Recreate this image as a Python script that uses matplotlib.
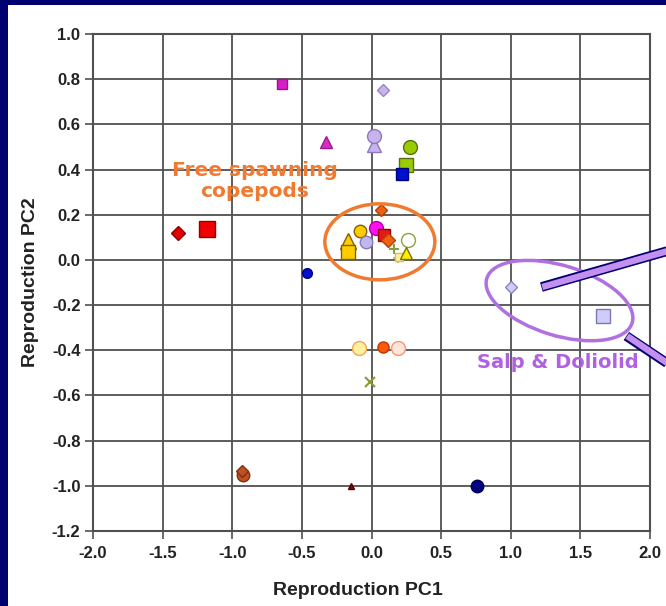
import matplotlib.pyplot as plt
from matplotlib.patches import Ellipse, Rectangle
from matplotlib.transforms import ScaledTranslation

plt.rcParams['font.family'] = ['Liberation Sans', 'DejaVu Sans']

# Reproduction PCA scores, one entry per taxon
pc1 = [-0.64, 0.08, -0.33, 0.02, 0.02, 0.28, 0.25, 0.22, 0.07,
       -1.39, -1.18,
       -0.17, -0.17, -0.08, -0.04, 0.03, 0.09, 0.12, 0.16, 0.19, 0.20, 0.26, 0.25,
       -0.46, 1.00, 1.66,
       -0.09, 0.08, 0.19, -0.01,
       -0.92, -0.93, -0.15, 0.76]
pc2 = [0.78, 0.75, 0.52, 0.51, 0.55, 0.50, 0.42, 0.38, 0.22,
       0.12, 0.135,
       0.085, 0.035, 0.13, 0.08, 0.14, 0.11, 0.09, 0.05, 0.01, 0.015, 0.09, 0.03,
       -0.06, -0.12, -0.25,
       -0.39, -0.385, -0.39, -0.54,
       -0.95, -0.935, -1.0, -1.0]

# marker, size, fill, edge for each taxon
styles = [
    ('s', 7, '#d81ec8', '#a0108f'),
    ('D', 6, '#c8b4ec', '#9a84c8'),
    ('^', 8, '#d82cc0', '#a01890'),
    ('^', 10, '#c8b4ec', '#8c78c0'),
    ('o', 10, '#c8b4ec', '#8c78c0'),
    ('o', 10, '#99cc00', '#5a7010'),
    ('s', 10, '#99cc00', '#5a7010'),
    ('s', 8, '#0010d0', '#000080'),
    ('D', 6, '#f06010', '#b04000'),
    ('D', 7, '#e00000', '#900000'),
    ('s', 11, '#f00000', '#900000'),
    ('^', 11, '#ffcc00', '#806000'),
    ('s', 10, '#ffcc00', '#806000'),
    ('o', 9, '#ffcc00', '#806000'),
    ('o', 9, '#c0b8ec', '#8c78c0'),
    ('o', 10, '#ff10f0', '#b000a0'),
    ('s', 9, '#e81818', '#900000'),
    ('D', 7, '#f06010', '#b04000'),
    ('+', 7, '#8a9a40', '#8a9a40'),
    ('+', 7, '#c0c060', '#c0c060'),
    ('s', 6, '#fff0a0', '#d0c070'),
    ('o', 10, '#ffffff', '#90a040'),
    ('^', 9, '#ffee00', '#807000'),
    ('o', 7, '#0010d0', '#000080'),
    ('D', 6, '#d0ccf4', '#8c84c0'),
    ('s', 10, '#d0ccf8', '#7c78b8'),
    ('o', 10, '#fff0a0', '#f0a850'),
    ('o', 8, '#f85810', '#c03800'),
    ('o', 10, '#ffe4d8', '#f09880'),
    ('x', 7, '#909830', '#909830'),
    ('o', 9, '#c05020', '#803010'),
    ('D', 6, '#c05020', '#803010'),
    ('^', 5, '#800010', '#500000'),
    ('o', 9, '#000080', '#000050'),
]

fig = plt.figure(figsize=(6.66, 6.06), dpi=100, facecolor='#000070')
fig.patches.append(Rectangle((8 / 666, 0), 1, 1 - 5 / 606, transform=fig.transFigure,
                             facecolor='white', edgecolor='none', zorder=-10))
ax = fig.add_axes([93 / 666, 75 / 606, 557 / 666, 497 / 606])
ax.set_xlim(-2.0, 2.0)
ax.set_ylim(-1.2, 1.0)
ax.set_xticks([-2.0, -1.5, -1.0, -0.5, 0.0, 0.5, 1.0, 1.5, 2.0])
ax.set_yticks([-1.2, -1.0, -0.8, -0.6, -0.4, -0.2, 0.0, 0.2, 0.4, 0.6, 0.8, 1.0])
ax.xaxis.set_major_formatter(lambda v, p: f"{v:.1f}")
ax.yaxis.set_major_formatter(lambda v, p: f"{v:.1f}")
ax.grid(True, color='#505050', linewidth=1.3)
ax.set_axisbelow(True)
for s in ax.spines.values():
    s.set_color('#505050')
    s.set_linewidth(1.5)
ax.tick_params(direction='out', length=6, width=1.2, color='#505050',
               labelsize=12, labelcolor='#222222')
ax.tick_params(axis='x', pad=5)
ax.tick_params(axis='y', pad=3)
for lab in ax.get_xticklabels() + ax.get_yticklabels():
    lab.set_fontweight('bold')

for x, y, (m, ms, fc, ec) in zip(pc1, pc2, styles):
    ax.plot(x, y, marker=m, markersize=ms, markerfacecolor=fc, markeredgecolor=ec,
            markeredgewidth=1.5 if m in '+x' else 1.0, linestyle='none', zorder=3)

# group outlines, size given in inches around a data centre
def ring(cx, cy, w, h, angle, color):
    tr = fig.dpi_scale_trans + ScaledTranslation(cx, cy, ax.transData)
    ax.add_patch(Ellipse((0, 0), w, h, angle=angle, transform=tr, fill=False,
                         edgecolor=color, linewidth=2.5, zorder=4, clip_on=False))

ring(0.06, 0.08, 1.10, 0.76, 0, '#f07a30')
ring(1.35, -0.18, 1.52, 0.70, -17, '#b070e0')

# callout bars running off to the right
for (x0, y0), (x1, y1) in [((1.22, -0.12), (2.3, 0.07)), ((1.83, -0.337), (2.3, -0.53))]:
    ax.plot([x0, x1], [y0, y1], color='#000070', linewidth=7, solid_capstyle='butt',
            clip_on=False, zorder=5)
    ax.plot([x0 + 0.006, x1], [y0, y1], color='#c490f0', linewidth=4.6,
            solid_capstyle='butt', clip_on=False, zorder=6)

ax.text(-0.84, 0.35, 'Free spawning\ncopepods', color='#f07a30', fontsize=14.5,
        family='DejaVu Sans', fontweight='bold', ha='center', va='center',
        linespacing=1.15, zorder=4)
ax.text(1.34, -0.456, 'Salp & Doliolid', color='#b060e0', fontsize=14,
        family='DejaVu Sans', fontweight='bold', ha='center', va='center', zorder=4)

ax.set_xlabel('Reproduction PC1', fontsize=14, fontweight='bold', color='#222222',
              labelpad=15, x=0.475)
ax.set_ylabel('Reproduction PC2', fontsize=14, fontweight='bold', color='#222222', labelpad=9)

fig.savefig('out.png', dpi=100, facecolor=fig.get_facecolor())
